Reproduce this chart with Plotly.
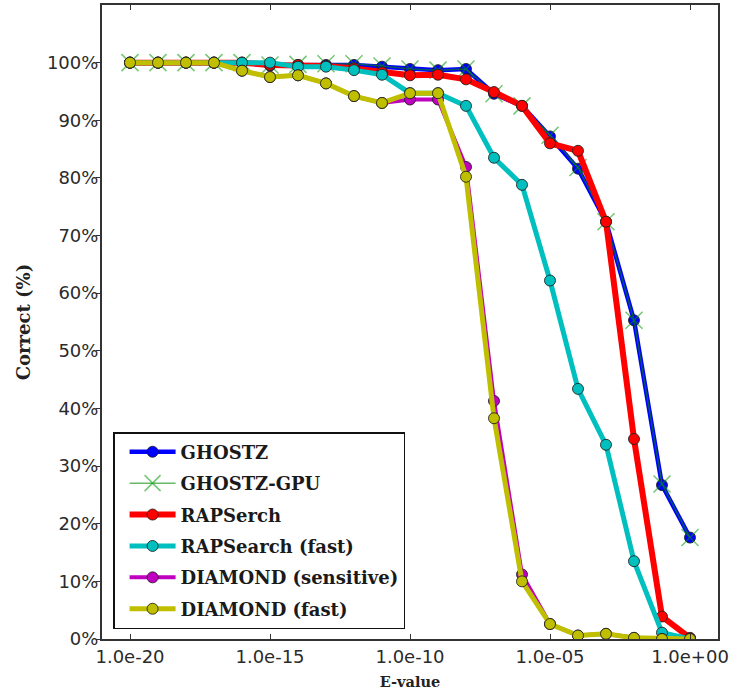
import plotly.graph_objects as go

evalue = [1e-20, 1e-19, 1e-18, 1e-17, 1e-16, 1e-15, 1e-14, 1e-13, 1e-12, 1e-11,
          1e-10, 1e-9, 1e-8, 1e-7, 1e-6, 1e-5, 1e-4, 1e-3, 1e-2, 1e-1, 1e0]

ghostz = [100, 100, 100, 100, 100, 99.5, 99.6, 99.6, 99.6, 99.3, 98.9, 98.7, 98.9,
          94.6, 92.5, 87.2, 81.6, 72.4, 55.3, 26.7, 17.6]
ghostz_gpu = [100, 100, 100, 100, 100, 99.6, 99.7, 99.8, 99.8, 99.4, 98.9, 98.7, 98.9,
              94.6, 92.5, 87.4, 81.8, 72.4, 55.3, 26.9, 17.6]
rapsearch = [100, 100, 100, 100, 100, 99.6, 99.6, 99.4, 99.0, 98.3, 97.8, 97.9, 97.1,
             94.9, 92.5, 86.0, 84.7, 72.4, 34.7, 3.9, 0.2]
rapsearch_fast = [100, 100, 100, 100, 100, 100, 99.3, 99.3, 98.7, 97.9, 94.7, 94.7, 92.5,
                  83.5, 78.8, 62.2, 43.4, 33.7, 13.5, 1.1, 0.0]
diamond_sens = [100, 100, 100, 100, 98.6, 97.5, 97.8, 96.4, 94.2, 93.0, 93.6, 93.6, 81.9,
                41.3, 11.2, 2.6, 0.6, 0.9, 0.2, 0.0, 0.0]
diamond_fast = [100, 100, 100, 100, 98.6, 97.5, 97.8, 96.4, 94.2, 93.0, 94.7, 94.7, 80.2,
                38.3, 10.0, 2.6, 0.6, 0.9, 0.2, 0.0, 0.0]

names = ["GHOSTZ", "GHOSTZ-GPU", "RAPSerch", "RAPSearch (fast)",
         "DIAMOND (sensitive)", "DIAMOND (fast)"]

x_tickvals = [1e-20, 1e-15, 1e-10, 1e-5, 1e0]
x_ticktext = ["1.0e-20", "1.0e-15", "1.0e-10", "1.0e-05", "1.0e+00"]
y_tickvals = [0, 10, 20, 30, 40, 50, 60, 70, 80, 90, 100]
y_ticktext = ["0%", "10%", "20%", "30%", "40%", "50%", "60%", "70%", "80%", "90%", "100%"]

fig = go.Figure()

edge = dict(color="rgba(30,30,30,0.85)", width=1)

def add_circle_series(name, y, color, lw, group):
    fig.add_trace(go.Scatter(
        x=evalue, y=y, name=name, mode="lines+markers",
        line=dict(color=color, width=lw),
        marker=dict(symbol="circle", size=11, color=color, line=edge),
        legendgroup=group,
    ))

add_circle_series(names[0], ghostz, "#0000ff", 4.5, "g1")
fig.add_trace(go.Scatter(
    x=evalue, y=ghostz_gpu, name=names[1], mode="lines+markers",
    line=dict(color="rgba(0,140,0,0.6)", width=1.5),
    marker=dict(symbol="x-thin-open", size=17,
                line=dict(color="rgba(0,150,0,0.55)", width=1.5),
                color="rgba(0,150,0,0.55)"),
    legendgroup="g2",
))
add_circle_series(names[2], rapsearch, "#ff0000", 6, "g3")
add_circle_series(names[3], rapsearch_fast, "#00bfbf", 5, "g4")
add_circle_series(names[4], diamond_sens, "#bf00bf", 4, "g5")
add_circle_series(names[5], diamond_fast, "#bfbf00", 5, "g6")

axis_col = "#333333"
tick_font = dict(family="DejaVu Sans", size=18, color="#2a2a2a")

fig.update_layout(
    width=742, height=691,
    margin=dict(l=102, r=24, t=3, b=50),
    paper_bgcolor="white", plot_bgcolor="white",
    showlegend=True,
    legend=dict(
        x=0.018, y=0.0157, xanchor="left", yanchor="bottom",
        bgcolor="white", bordercolor="#111111", borderwidth=1.5,
        font=dict(family="DejaVu Serif", size=18, color="#1a1a1a", weight="bold"),
        tracegroupgap=5, itemwidth=46, indentation=10,
    ),
    xaxis=dict(
        type="log", range=[-21, 1],
        tickvals=x_tickvals, ticktext=x_ticktext,
        ticks="inside", ticklen=5, tickwidth=1, tickcolor=axis_col,
        showline=True, linecolor=axis_col, linewidth=2, mirror="ticks",
        showgrid=False, zeroline=False, tickfont=tick_font,
        title=dict(text="<b>E-value</b>",
                   font=dict(family="DejaVu Serif", size=14.5, color="#222222"),
                   standoff=11),
    ),
    yaxis=dict(
        range=[0, 110], tickvals=y_tickvals, ticktext=y_ticktext,
        ticks="outside", ticklen=4, tickwidth=1, tickcolor=axis_col,
        ticklabelstandoff=-6,
        showline=True, linecolor=axis_col, linewidth=2, mirror=True,
        showgrid=False, zeroline=False, tickfont=tick_font,
        title=dict(text="<b>Correct (%)</b>",
                   font=dict(family="DejaVu Serif", size=18, color="#222222"),
                   standoff=12),
    ),
    yaxis2=dict(
        range=[0, 110], tickvals=y_tickvals, overlaying="y", side="right",
        ticks="inside", ticklen=7, tickwidth=1, tickcolor=axis_col,
        showticklabels=False, showgrid=False, zeroline=False, showline=False,
        anchor="x",
    ),
)

fig.write_html("out.html")
